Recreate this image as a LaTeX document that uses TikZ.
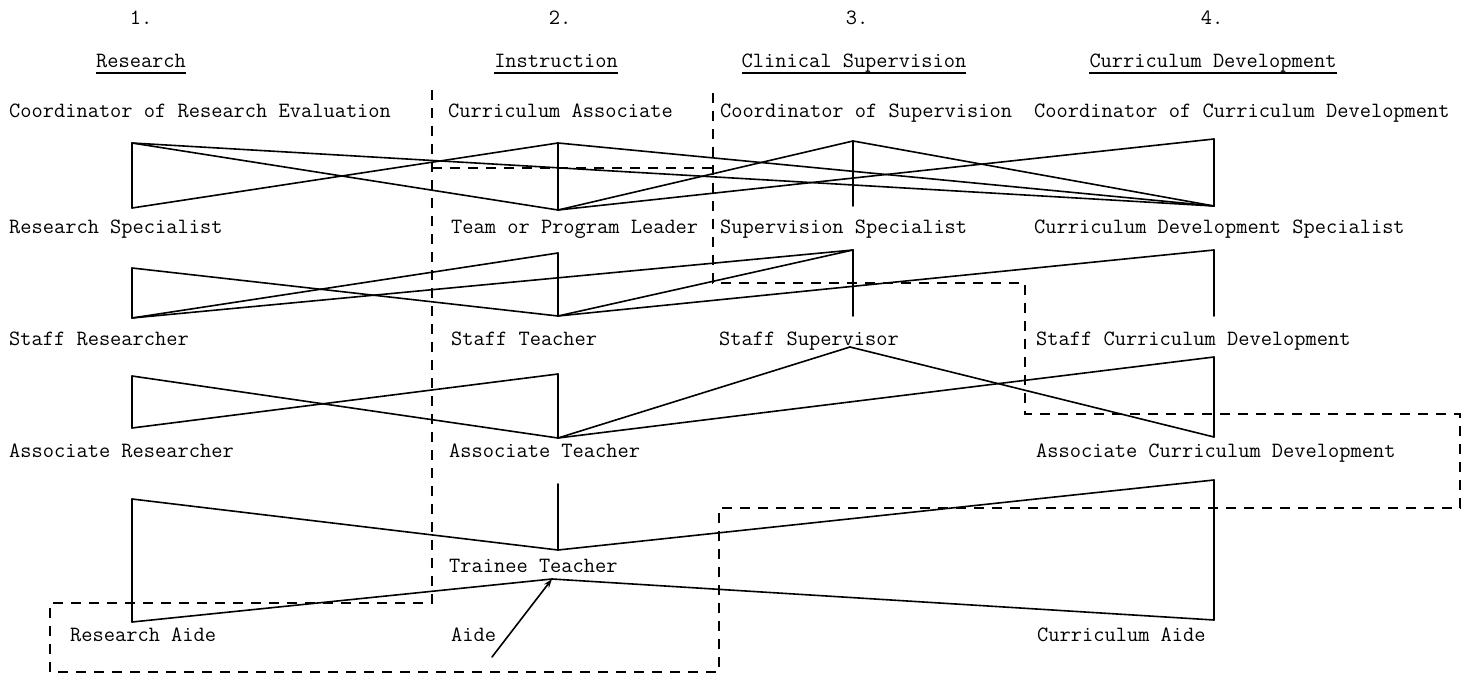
\documentclass[tikz,border=0pt]{standalone}
\usetikzlibrary{arrows.meta}
\begin{document}
\begin{tikzpicture}[x=1pt,y=-1pt,
  lbl/.style={anchor=base west,inner sep=0pt,font=\fontsize{21.8}{24}\selectfont\ttfamily},
  head/.style={anchor=base,inner sep=0pt,font=\fontsize{21.8}{24}\selectfont\ttfamily},
  link/.style={line width=1.6pt,line cap=round,line join=round},
  bound/.style={line width=1.4pt,dash pattern=on 10pt off 8pt},
  uline/.style={line width=1.1pt}]
\useasboundingbox (0,0) rectangle (1467,674);

% column numbers and headings
\node[head] (n1) at (141,25) {1.};
\node[head] (n2) at (560,25) {2.};
\node[head] (n3) at (857,25) {3.};
\node[head] (n4) at (1212,25) {4.};
\node[head] (h1) at (141,68) {Research};
\node[head] (h2) at (556,68) {Instruction};
\node[head] (h3) at (854,68) {Clinical Supervision};
\node[head] (h4) at (1213,68) {Curriculum Development};
\foreach \h in {h1,h2,h3,h4}
  \draw[uline] ([yshift=-5pt]\h.base west) -- ([yshift=-5pt]\h.base east);

% position titles
\node[lbl] (ra) at (9,118) {Coordinator of Research Evaluation};
\node[lbl] (ia) at (448,118) {Curriculum Associate};
\node[lbl] (sa) at (720,118) {Coordinator of Supervision};
\node[lbl] (ca) at (1034,118) {Coordinator of Curriculum Development};
\node[lbl] (rb) at (9,233) {Research Specialist};
\node[lbl] (ib) at (451,233) {Team or Program Leader};
\node[lbl] (sb) at (720,233) {Supervision Specialist};
\node[lbl] (cb) at (1034,233) {Curriculum Development Specialist};
\node[lbl] (rc) at (9,345) {Staff Researcher};
\node[lbl] (ic) at (451,345) {Staff Teacher};
\node[lbl] (sc) at (719,345) {Staff Supervisor};
\node[lbl] (cc) at (1036,345) {Staff Curriculum Development};
\node[lbl] (rd) at (9,457) {Associate Researcher};
\node[lbl] (id) at (449,457) {Associate Teacher};
\node[lbl] (cd) at (1036,457) {Associate Curriculum Development};
\node[lbl] (ie) at (449,572) {Trainee Teacher};
\node[lbl] (rf) at (70,641) {Research Aide};
\node[lbl] (if) at (451,641) {Aide};
\node[lbl] (cf) at (1037,641) {Curriculum Aide};

% link end points, research column
\coordinate (r1t) at (132,143); \coordinate (r1b) at (132,208);
\coordinate (r2t) at (132,268); \coordinate (r2b) at (132,318);
\coordinate (r3t) at (132,376); \coordinate (r3b) at (132,428);
\coordinate (r4t) at (132,499); \coordinate (r4b) at (132,622);
% instruction column
\coordinate (i1t) at (558,143); \coordinate (i1b) at (558,210);
\coordinate (i2t) at (558,253); \coordinate (i2b) at (558,316);
\coordinate (i3t) at (558,374); \coordinate (i3b) at (558,438);
\coordinate (i4t) at (558,484); \coordinate (i4b) at (558,550);
\coordinate (i5) at (552,579);
% supervision column
\coordinate (s1t) at (853,141); \coordinate (s1b) at (853,206);
\coordinate (s2t) at (853,250); \coordinate (s2b) at (853,316);
\coordinate (s3) at (850,347);
% curriculum column
\coordinate (c1t) at (1214,139); \coordinate (c1b) at (1214,206);
\coordinate (c2t) at (1214,250); \coordinate (c2b) at (1214,316);
\coordinate (c3t) at (1214,357); \coordinate (c3b) at (1214,437);
\coordinate (c4t) at (1214,480); \coordinate (c4b) at (1214,620);
\coordinate (aidetail) at (492,657);

% verticals
\draw[link] (r1t) -- (r1b) (i1t) -- (i1b) (s1t) -- (s1b) (c1t) -- (c1b);
\draw[link] (r2t) -- (r2b) (i2t) -- (i2b) (s2t) -- (s2b) (c2t) -- (c2b);
\draw[link] (r3t) -- (r3b) (i3t) -- (i3b) (c3t) -- (c3b);
\draw[link] (r4t) -- (r4b) (i4t) -- (i4b) (c4t) -- (c4b);

% first tier
\draw[link] (r1t) -- (c1b);
\draw[link] (r1t) -- (i1b);
\draw[link] (r1b) -- (i1t);
\draw[link] (i1t) -- (c1b);
\draw[link] (i1b) -- (s1t);
\draw[link] (i1b) -- (c1t);
\draw[link] (s1t) -- (c1b);
% second tier
\draw[link] (r2t) -- (i2b);
\draw[link] (r2b) -- (i2t);
\draw[link] (r2b) -- (s2t);
\draw[link] (i2b) -- (s2t);
\draw[link] (i2b) -- (c2t);
% third tier
\draw[link] (r3t) -- (i3b);
\draw[link] (r3b) -- (i3t);
\draw[link] (i3b) -- (s3);
\draw[link] (s3) -- (c3b);
\draw[link] (i3b) -- (c3t);
% fourth tier
\draw[link] (r4t) -- (i4b);
\draw[link] (i4b) -- (c4t);
\draw[link] (r4b) -- (i5);
\draw[link] (i5) -- (c4b);
\draw[link,-{Stealth[length=9pt,width=6pt]}] (aidetail) -- (i5);

% dashed boundary
\draw[bound] (432,90) -- (432,603) -- (50,603) -- (50,672) -- (719,672) -- (719,508)
  -- (1460,508) -- (1460,414) -- (1025,414) -- (1025,283) -- (713,283) -- (713,90);
\draw[bound] (432,168) -- (713,168);
\end{tikzpicture}
\end{document}
